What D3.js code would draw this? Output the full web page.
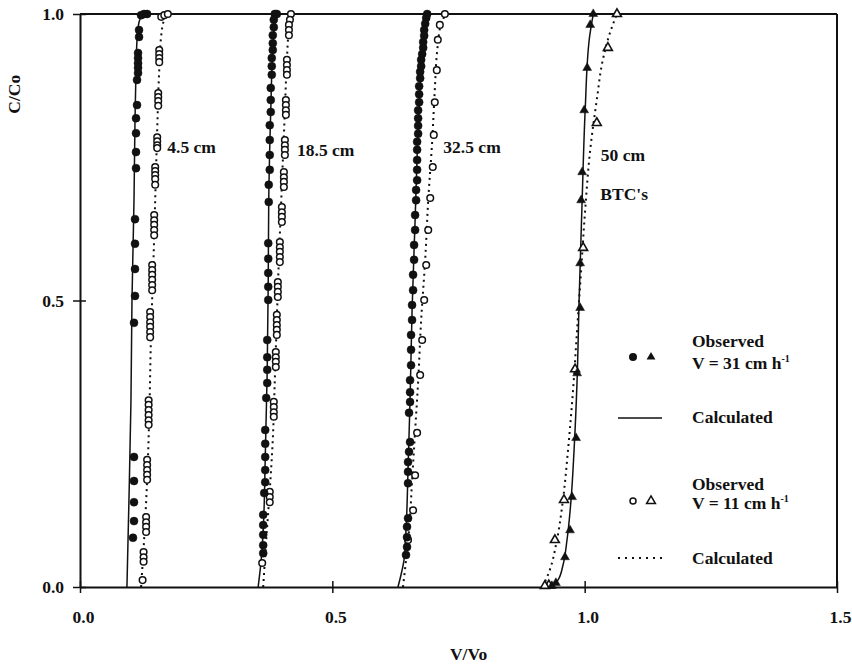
<!DOCTYPE html>
<html>
<head>
<meta charset="utf-8">
<script src="https://cdn.jsdelivr.net/npm/d3@7"></script>
<style>
  body { margin: 0; background: #fff; }
  text { font-family: "Liberation Serif", "Times New Roman", serif; font-weight: bold; fill: #111; }
</style>
</head>
<body>
<script>
// tick values
var xTicks = [0, 0.5, 1.0, 1.5];
var yTicks = [0, 0.5, 1.0];
var depthNames = ["4.5 cm", "18.5 cm", "32.5 cm", "50 cm"];

// observed, V = 31 cm/h (filled symbols)
var obs31_4 = [[0.133,1.0],[0.127,1.0],[0.121,0.998],[0.117,0.972],[0.117,0.960],[0.115,0.932],[0.115,0.923],[0.115,0.914],
  [0.115,0.906],[0.115,0.897],[0.113,0.885],[0.113,0.841],[0.111,0.818],[0.111,0.792],[0.111,0.759],[0.111,0.731],
  [0.109,0.642],[0.109,0.599],[0.109,0.555],[0.109,0.508],[0.107,0.461],[0.107,0.227],[0.107,0.185],[0.107,0.148],
  [0.107,0.115],[0.105,0.086]];
var obs31_18 = [[0.386,1.0],[0.390,1.0],[0.384,0.990],[0.384,0.977],[0.382,0.963],[0.382,0.949],[0.382,0.937],[0.380,0.923],
  [0.380,0.909],[0.380,0.894],[0.378,0.871],[0.378,0.850],[0.378,0.829],[0.376,0.806],[0.376,0.780],[0.376,0.754],
  [0.376,0.728],[0.374,0.702],[0.374,0.672],[0.373,0.600],[0.373,0.573],[0.373,0.548],[0.373,0.524],[0.373,0.501],
  [0.371,0.431],[0.371,0.401],[0.371,0.379],[0.371,0.356],[0.369,0.330],[0.367,0.274],[0.367,0.250],[0.367,0.227],
  [0.367,0.204],[0.367,0.183],[0.365,0.164],[0.363,0.126],[0.363,0.108],[0.363,0.091],[0.363,0.073],[0.363,0.059]];
var obs31_32 = [[0.688,1.0],[0.686,0.993],[0.684,0.983],[0.682,0.972],[0.682,0.962],[0.680,0.951],[0.680,0.941],[0.678,0.930],
  [0.676,0.920],[0.676,0.909],[0.674,0.899],[0.674,0.888],[0.672,0.874],[0.672,0.860],[0.672,0.846],[0.670,0.832],
  [0.670,0.818],[0.670,0.805],[0.670,0.791],[0.668,0.777],[0.668,0.763],[0.668,0.745],[0.668,0.728],[0.668,0.710],
  [0.666,0.693],[0.666,0.675],[0.664,0.649],[0.664,0.623],[0.662,0.597],[0.662,0.571],[0.660,0.545],[0.660,0.518],
  [0.658,0.492],[0.658,0.466],[0.656,0.440],[0.656,0.414],[0.656,0.387],[0.654,0.361],[0.654,0.340],[0.654,0.323],
  [0.652,0.304],[0.654,0.253],[0.652,0.236],[0.650,0.218],[0.650,0.201],[0.650,0.181],[0.650,0.120],[0.648,0.105],
  [0.648,0.087],[0.648,0.070],[0.646,0.056]];
var obs31_50 = [[1.017,1.0],[1.011,0.981],[1.005,0.906],[0.999,0.832],[0.995,0.724],[0.993,0.675],[0.991,0.565],
  [0.991,0.487],[0.985,0.373],[0.983,0.260],[0.975,0.157],[0.971,0.099],[0.961,0.052],[0.943,0.007],[0.935,0.002]];

// observed, V = 11 cm/h (open symbols)
var obs11_4 = [[0.161,0.995],[0.167,0.998],[0.174,1.0],
  [0.157,0.937],[0.157,0.930],[0.157,0.923],[0.157,0.916],
  [0.155,0.862],[0.155,0.855],[0.155,0.848],[0.155,0.840],
  [0.153,0.785],[0.153,0.778],[0.153,0.771],[0.153,0.766],
  [0.149,0.733],[0.149,0.726],[0.149,0.719],[0.149,0.712],[0.149,0.702],
  [0.147,0.649],[0.147,0.640],[0.147,0.632],[0.147,0.623],[0.147,0.614],
  [0.143,0.562],[0.143,0.553],[0.143,0.545],[0.143,0.536],[0.143,0.527],[0.143,0.518],
  [0.139,0.480],[0.139,0.471],[0.139,0.462],[0.139,0.454],[0.139,0.445],[0.139,0.436],
  [0.136,0.326],[0.136,0.318],[0.136,0.309],[0.136,0.300],[0.136,0.291],[0.136,0.283],
  [0.133,0.222],[0.133,0.213],[0.133,0.204],[0.133,0.196],[0.133,0.187],
  [0.131,0.122],[0.131,0.113],[0.131,0.105],[0.131,0.096],
  [0.126,0.061],[0.126,0.052],[0.126,0.044],[0.124,0.012]];
var obs11_18 = [[0.418,1.0],[0.416,0.990],
  [0.414,0.981],[0.414,0.972],[0.414,0.963],
  [0.410,0.920],[0.410,0.911],[0.410,0.902],[0.410,0.894],
  [0.408,0.850],[0.408,0.841],[0.408,0.832],[0.408,0.824],
  [0.406,0.780],[0.406,0.771],[0.406,0.763],[0.406,0.754],
  [0.404,0.724],[0.404,0.715],[0.404,0.707],[0.404,0.698],
  [0.400,0.663],[0.400,0.654],[0.400,0.646],[0.400,0.637],
  [0.396,0.602],[0.396,0.593],[0.396,0.585],[0.396,0.576],[0.396,0.567],
  [0.392,0.532],[0.392,0.524],[0.392,0.515],[0.392,0.506],
  [0.390,0.475],[0.390,0.466],[0.390,0.457],[0.390,0.449],[0.390,0.440],
  [0.388,0.410],[0.388,0.401],[0.388,0.393],[0.388,0.384],
  [0.384,0.323],[0.384,0.314],[0.384,0.305],[0.384,0.297],
  [0.376,0.166],[0.376,0.157],[0.376,0.148],[0.361,0.042]];
var obs11_32 = [[0.723,1.0],[0.713,0.981],[0.709,0.955],[0.707,0.902],[0.703,0.846],[0.701,0.789],[0.699,0.733],
  [0.694,0.679],[0.690,0.623],[0.686,0.562],[0.682,0.501],[0.678,0.431],[0.674,0.370],[0.668,0.269],[0.664,0.195],
  [0.660,0.134],[0.650,0.082]];
var obs11_50 = [[1.064,1.0],[1.046,0.941],[1.024,0.810],[0.997,0.592],[0.981,0.380],[0.959,0.152],[0.941,0.082],
  [0.929,0.003],[0.921,0.002]];

// calculated curves
var calc31_4 = [[0.093,0],[0.097,0.152],[0.101,0.326],[0.103,0.501],[0.107,0.675],[0.109,0.815],[0.111,0.902],
  [0.113,0.955],[0.117,0.986],[0.123,0.997],[0.135,1.0]];
var calc31_18 = [[0.353,0],[0.359,0.047],[0.363,0.099],[0.367,0.222],[0.371,0.379],[0.373,0.536],[0.374,0.675],
  [0.378,0.832],[0.382,0.937],[0.386,0.986],[0.394,1.0]];
var calc31_32 = [[0.630,0],[0.636,0.021],[0.642,0.047],[0.646,0.099],[0.650,0.204],[0.654,0.326],[0.658,0.483],
  [0.664,0.640],[0.670,0.798],[0.676,0.902],[0.682,0.963],[0.688,0.997],[0.694,1.0]];
var calc31_50 = [[0.921,0],[0.937,0.002],[0.947,0.012],[0.957,0.038],[0.965,0.082],[0.973,0.152],[0.979,0.239],
  [0.985,0.361],[0.989,0.501],[0.995,0.675],[1.001,0.832],[1.009,0.955],[1.017,1.0]];
var calc11_4 = [[0.121,0],[0.127,0.082],[0.133,0.187],[0.137,0.291],[0.141,0.449],[0.145,0.553],[0.149,0.675],
  [0.153,0.798],[0.157,0.902],[0.161,0.963],[0.168,0.993],[0.178,1.0]];
var calc11_18 = [[0.363,0],[0.369,0.082],[0.376,0.169],[0.382,0.257],[0.386,0.361],[0.390,0.466],[0.394,0.571],
  [0.398,0.658],[0.402,0.745],[0.406,0.832],[0.410,0.920],[0.414,0.972],[0.420,1.0]];
var calc11_32 = [[0.640,0],[0.646,0.047],[0.652,0.099],[0.658,0.185],[0.664,0.272],[0.670,0.358],[0.676,0.466],
  [0.684,0.571],[0.690,0.675],[0.698,0.780],[0.703,0.867],[0.709,0.946],[0.715,0.981],[0.725,1.0]];
var calc11_50 = [[0.917,0],[0.931,0.030],[0.945,0.082],[0.957,0.152],[0.967,0.239],[0.977,0.344],[0.985,0.449],
  [0.993,0.553],[1.001,0.658],[1.011,0.763],[1.024,0.850],[1.036,0.920],[1.052,0.972],[1.064,1.0]];

var w = 852, h = 665;
var padL = 80, padR = 837, padT = 14, padB = 587;
var fs = 17.5;

var svg = d3.select("body").append("svg")
  .attr("width", w)
  .attr("height", h);

svg.append("rect").attr("width", w).attr("height", h).attr("fill", "#fff");

var x = d3.scaleLinear().domain([0, 1.5]).range([padL, padR]);
var y = d3.scaleLinear().domain([0, 1]).range([padB, padT]);

var line = d3.line()
  .x(function(d) { return x(d[0]); })
  .y(function(d) { return y(d[1]); })
  .curve(d3.curveMonotoneY);

// frame (top and right sides)
svg.append("line").attr("x1", padL).attr("x2", padR).attr("y1", padT).attr("y2", padT)
  .attr("stroke", "#111").attr("stroke-width", 2);
svg.append("line").attr("x1", padR).attr("x2", padR).attr("y1", padT).attr("y2", padB)
  .attr("stroke", "#111").attr("stroke-width", 2);

// x axis
var xAxis = svg.append("g")
  .attr("transform", "translate(0," + padB + ")")
  .call(d3.axisBottom(x).tickValues(xTicks).tickFormat(d3.format(".1f")).tickSize(6).tickSizeOuter(0).tickPadding(18));
xAxis.select(".domain").attr("stroke", "#111").attr("stroke-width", 2);
xAxis.selectAll(".tick line").attr("y1", -6).attr("y2", 6).attr("stroke", "#111").attr("stroke-width", 1.5);
xAxis.selectAll(".tick text").attr("font-size", fs).attr("font-family", null).attr("dx", 3);

// y axis
var yAxis = svg.append("g")
  .attr("transform", "translate(" + padL + ",0)")
  .call(d3.axisLeft(y).tickValues(yTicks).tickFormat(d3.format(".1f")).tickSize(6).tickSizeOuter(0).tickPadding(10));
yAxis.select(".domain").attr("stroke", "#111").attr("stroke-width", 2);
yAxis.selectAll(".tick line").attr("x1", -7).attr("x2", 6).attr("stroke", "#111").attr("stroke-width", 1.5);
yAxis.selectAll(".tick text").attr("font-size", fs).attr("font-family", null);

// axis titles
svg.append("text")
  .attr("transform", "translate(20," + y(0.86) + ") rotate(-90)")
  .attr("text-anchor", "middle")
  .attr("font-size", fs)
  .text("C/Co");

svg.append("text")
  .attr("x", x(0.77))
  .attr("y", 660)
  .attr("text-anchor", "middle")
  .attr("font-size", fs)
  .text("V/Vo");

// calculated curves
[calc31_4, calc31_18, calc31_32, calc31_50].forEach(function(c) {
  svg.append("path").datum(c)
    .attr("d", line)
    .attr("fill", "none")
    .attr("stroke", "#111")
    .attr("stroke-width", 1.5);
});
[calc11_4, calc11_18, calc11_32, calc11_50].forEach(function(c) {
  svg.append("path").datum(c)
    .attr("d", line)
    .attr("fill", "none")
    .attr("stroke", "#111")
    .attr("stroke-width", 2)
    .attr("stroke-dasharray", "2,4");
});

var tri = d3.symbol().type(d3.symbolTriangle).size(34);

function drawCircles(data, filled) {
  svg.append("g").selectAll("circle").data(data)
    .enter().append("circle")
    .attr("cx", function(d) { return x(d[0]); })
    .attr("cy", function(d) { return y(d[1]); })
    .attr("r", filled ? 4 : 3.3)
    .attr("fill", filled ? "#111" : "#fff")
    .attr("stroke", "#111")
    .attr("stroke-width", filled ? 0.5 : 1.5);
}

function drawTriangles(data, filled) {
  svg.append("g").selectAll("path").data(data)
    .enter().append("path")
    .attr("d", tri)
    .attr("transform", function(d) { return "translate(" + x(d[0]) + "," + y(d[1]) + ")"; })
    .attr("fill", filled ? "#111" : "#fff")
    .attr("stroke", "#111")
    .attr("stroke-width", filled ? 0.5 : 1.6);
}

drawCircles(obs11_4, false);
drawCircles(obs11_18, false);
drawCircles(obs11_32, false);
drawTriangles(obs11_50, false);
drawCircles(obs31_4, true);
drawCircles(obs31_18, true);
drawCircles(obs31_32, true);
drawTriangles(obs31_50, true);

// depth labels
var labelPos = [[0.173, 0.757], [0.430, 0.753], [0.720, 0.757], [1.032, 0.744]];
svg.selectAll(".depth").data(depthNames)
  .enter().append("text")
  .attr("class", "depth")
  .attr("x", function(d, i) { return x(labelPos[i][0]); })
  .attr("y", function(d, i) { return y(labelPos[i][1]); })
  .attr("font-size", fs)
  .text(function(d) { return d; });

svg.append("text")
  .attr("x", x(1.031)).attr("y", y(0.675))
  .attr("font-size", fs)
  .text("BTC's");

// legend
var lx = 692;
svg.append("circle").attr("cx", 633).attr("cy", 357).attr("r", 4).attr("fill", "#111");
svg.append("path").attr("d", tri).attr("transform", "translate(651,357)").attr("fill", "#111");
svg.append("text").attr("x", lx).attr("y", 347).attr("font-size", fs).text("Observed");
var t1 = svg.append("text").attr("x", lx).attr("y", 369).attr("font-size", fs);
t1.append("tspan").text("V = 31 cm h");
t1.append("tspan").attr("font-size", 10).attr("dy", -7).text("-1");

svg.append("line").attr("x1", 618).attr("x2", 662).attr("y1", 418).attr("y2", 418)
  .attr("stroke", "#111").attr("stroke-width", 1.5);
svg.append("text").attr("x", lx).attr("y", 423).attr("font-size", fs).text("Calculated");

svg.append("circle").attr("cx", 633).attr("cy", 501).attr("r", 3).attr("fill", "#fff")
  .attr("stroke", "#111").attr("stroke-width", 1.5);
svg.append("path").attr("d", tri).attr("transform", "translate(651,501)").attr("fill", "#fff")
  .attr("stroke", "#111").attr("stroke-width", 1.5);
svg.append("text").attr("x", lx).attr("y", 490).attr("font-size", fs).text("Observed");
var t2 = svg.append("text").attr("x", lx).attr("y", 509).attr("font-size", fs);
t2.append("tspan").text("V = 11 cm h");
t2.append("tspan").attr("font-size", 10).attr("dy", -7).text("-1");

svg.append("line").attr("x1", 618).attr("x2", 665).attr("y1", 558).attr("y2", 558)
  .attr("stroke", "#111").attr("stroke-width", 2).attr("stroke-dasharray", "2,5");
svg.append("text").attr("x", lx).attr("y", 564).attr("font-size", fs).text("Calculated");
</script>
</body>
</html>
